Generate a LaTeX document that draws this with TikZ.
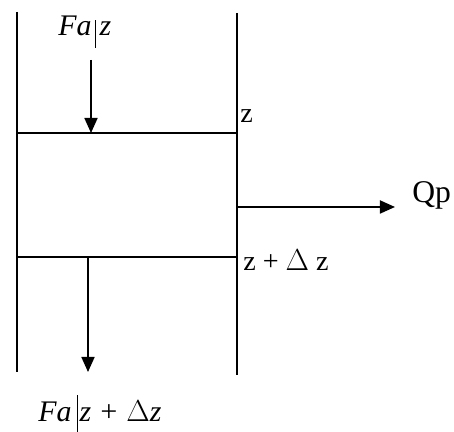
\documentclass[tikz,border=0pt]{standalone}
\usepackage{amsmath}
\usepackage{fontspec}
\setmainfont{Liberation Serif}
\usetikzlibrary{arrows.meta, positioning}

\tikzset{
  wall/.style={black, line width=1.2pt},
  flow/.style={black, line width=1pt, -{Triangle[length=3mm, width=2.6mm]}},
  rlbl/.style={font=\fontsize{16}{19}\selectfont, inner sep=0pt},
  ilbl/.style={font=\fontsize{17}{20}\selectfont\itshape, inner sep=0pt},
}

\begin{document}
\begin{tikzpicture}

\useasboundingbox (0,0) rectangle (9.08,8.64);

% Walls of the column
\coordinate (wallLtop) at (0.34,8.40);
\coordinate (wallLbot) at (0.34,1.20);
\coordinate (wallRtop) at (4.74,8.38);
\coordinate (wallRbot) at (4.74,1.14);
\draw[wall] (wallLtop) -- (wallLbot);
\draw[wall] (wallRtop) -- (wallRbot);

% Element boundaries
\coordinate (topL) at (0.34,5.98);
\coordinate (topR) at (4.74,5.98);
\coordinate (botL) at (0.34,3.50);
\coordinate (botR) at (4.74,3.50);
\draw[wall] (topL) -- (topR);
\draw[wall] (botL) -- (botR);

% Boundary labels
\node[rlbl, anchor=base west] (zlab) at (4.80,6.18) {z};
\node[rlbl, anchor=base west] (dzlab) at (4.86,3.22) {z + $\Delta$ z};

% Inflow at z
\node[ilbl, anchor=base west] (fain) at (1.16,7.92)
  {Fa\kern2pt\rule[-6.8pt]{0.6pt}{15.9pt}\kern2pt z};
\coordinate (inTail) at (1.82,7.44);
\coordinate (inHead) at (1.82,5.98);
\draw[flow] (inTail) -- (inHead);

% Side stream
\node[rlbl, font=\fontsize{18}{21}\selectfont, anchor=base west] (qp) at (8.24,4.58) {Qp};
\coordinate (qpTail) at (4.74,4.50);
\coordinate (qpHead) at (7.90,4.50);
\draw[flow] (qpTail) -- (qpHead);

% Outflow at z + dz
\node[ilbl, anchor=base west] (faout) at (0.76,0.21)
  {Fa\kern3pt\rule[-5.7pt]{0.6pt}{21pt}\kern1pt z + {\upshape$\Delta$}z};
\coordinate (outTail) at (1.76,3.50);
\coordinate (outHead) at (1.76,1.20);
\draw[flow] (outTail) -- (outHead);

\end{tikzpicture}
\end{document}
